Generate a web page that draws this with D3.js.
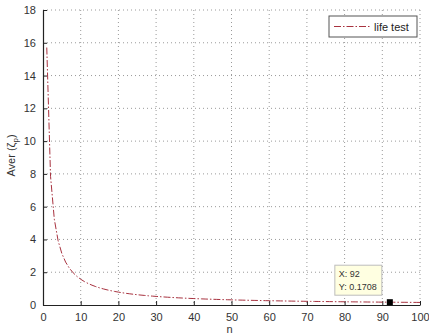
<!DOCTYPE html>
<html>
<head>
<meta charset="utf-8">
<script src="https://cdn.jsdelivr.net/npm/d3@7"></script>
<style>
  body { margin: 0; background: #fff; }
  svg { display: block; font-family: "Liberation Sans", Arial, sans-serif; }
</style>
</head>
<body>
<div id="chart"></div>
<script>
// n = 1..100, averaged values
const nValues = d3.range(1, 101);
const averValues = [
  15.71, 7.855, 5.237, 3.928, 3.142, 2.618, 2.244, 1.964, 1.746, 1.571,
  1.428, 1.309, 1.208, 1.122, 1.047, 0.982, 0.924, 0.873, 0.827, 0.786,
  0.748, 0.714, 0.683, 0.655, 0.628, 0.604, 0.582, 0.561, 0.542, 0.524,
  0.507, 0.491, 0.476, 0.462, 0.449, 0.436, 0.425, 0.413, 0.403, 0.393,
  0.383, 0.374, 0.365, 0.357, 0.349, 0.342, 0.334, 0.327, 0.321, 0.314,
  0.308, 0.302, 0.296, 0.291, 0.286, 0.281, 0.276, 0.271, 0.266, 0.262,
  0.258, 0.253, 0.249, 0.245, 0.242, 0.238, 0.234, 0.231, 0.228, 0.224,
  0.221, 0.218, 0.215, 0.212, 0.209, 0.207, 0.204, 0.201, 0.199, 0.196,
  0.194, 0.192, 0.189, 0.187, 0.185, 0.183, 0.181, 0.179, 0.177, 0.175,
  0.173, 0.1708, 0.169, 0.167, 0.165, 0.164, 0.162, 0.160, 0.159, 0.157
];
const xTicks = [0, 10, 20, 30, 40, 50, 60, 70, 80, 90, 100];
const yTicks = [0, 2, 4, 6, 8, 10, 12, 14, 16, 18];
const seriesName = "life test";
const tipPoint = { n: 92, value: 0.1708 };

const width = 429, height = 336;
const margin = { top: 10, right: 9, bottom: 31, left: 43 };
const innerW = width - margin.left - margin.right;
const innerH = height - margin.top - margin.bottom;

const lineColor = "#a8323f";
const gridColor = "#9a9a9a";

const svg = d3.select("#chart").append("svg")
  .attr("width", width)
  .attr("height", height);

const g = svg.append("g")
  .attr("transform", `translate(${margin.left},${margin.top})`);

const x = d3.scaleLinear().domain([0, 100]).range([0, innerW]);
const y = d3.scaleLinear().domain([0, 18]).range([innerH, 0]);

// grid (dotted)
g.append("g").selectAll("line")
  .data(xTicks.filter(d => d > 0))
  .join("line")
  .attr("x1", d => x(d)).attr("x2", d => x(d))
  .attr("y1", 0).attr("y2", innerH)
  .attr("stroke", gridColor).attr("stroke-width", 1)
  .attr("stroke-dasharray", "1,3");

g.append("g").selectAll("line")
  .data(yTicks.filter(d => d > 0))
  .join("line")
  .attr("x1", 0).attr("x2", innerW)
  .attr("y1", d => y(d)).attr("y2", d => y(d))
  .attr("stroke", gridColor).attr("stroke-width", 1)
  .attr("stroke-dasharray", "1,3");

// axes
const xAxis = g.append("g")
  .attr("transform", `translate(0,${innerH})`)
  .call(d3.axisBottom(x).tickValues(xTicks).tickSize(-4).tickPadding(8).tickSizeOuter(0));
const yAxis = g.append("g")
  .call(d3.axisLeft(y).tickValues(yTicks).tickSize(-4).tickPadding(7).tickSizeOuter(0));

[xAxis, yAxis].forEach(a => {
  a.select(".domain").attr("stroke", "#222").attr("stroke-width", 1.2);
  a.selectAll(".tick line").attr("stroke", "#222");
  a.selectAll(".tick text").attr("fill", "#333").style("font-size", "11px");
});

// curve
const line = d3.line()
  .x((d, i) => x(nValues[i]))
  .y(d => y(d));

g.append("path")
  .datum(averValues)
  .attr("d", line)
  .attr("fill", "none")
  .attr("stroke", lineColor)
  .attr("stroke-width", 1)
  .attr("stroke-dasharray", "7,2,1.5,2");

// data tip
const tx = x(tipPoint.n), ty = y(tipPoint.value);
g.append("rect")
  .attr("x", tx - 3).attr("y", ty - 3)
  .attr("width", 6).attr("height", 6)
  .attr("fill", "#000");

const tip = g.append("g").attr("transform", `translate(${tx - 55},${ty - 37})`);
tip.append("rect")
  .attr("width", 47).attr("height", 30)
  .attr("fill", "#ffffe1").attr("stroke", "#bdbdbd");
tip.append("text").attr("x", 4).attr("y", 12)
  .style("font-size", "9px").attr("fill", "#333").text("X: " + tipPoint.n);
tip.append("text").attr("x", 4).attr("y", 25)
  .style("font-size", "9px").attr("fill", "#333").text("Y: " + tipPoint.value);

// legend
const legend = g.append("g").attr("transform", `translate(${innerW - 91},6)`);
legend.append("rect")
  .attr("width", 88).attr("height", 21)
  .attr("fill", "#fff").attr("stroke", "#555").attr("stroke-width", 1);
legend.append("line")
  .attr("x1", 5).attr("x2", 42).attr("y1", 10.5).attr("y2", 10.5)
  .attr("stroke", lineColor).attr("stroke-width", 1)
  .attr("stroke-dasharray", "7,2,1.5,2");
legend.append("text")
  .attr("x", 45).attr("y", 14.5)
  .style("font-size", "11px").attr("fill", "#222")
  .text(seriesName);

// axis labels
svg.append("text")
  .attr("x", margin.left + x(50) - 2).attr("y", 333)
  .attr("text-anchor", "middle")
  .style("font-size", "11px").attr("fill", "#333")
  .text("n");

const yl = svg.append("text")
  .attr("transform", `translate(15,${margin.top + innerH / 2 - 2}) rotate(-90)`)
  .attr("text-anchor", "middle")
  .style("font-size", "11px").attr("fill", "#333");
yl.append("tspan").text("Aver (");
yl.append("tspan").text("ζ");
yl.append("tspan").attr("dy", 3).style("font-size", "8px").text("p");
yl.append("tspan").attr("dy", -3).text(")");
</script>
</body>
</html>
